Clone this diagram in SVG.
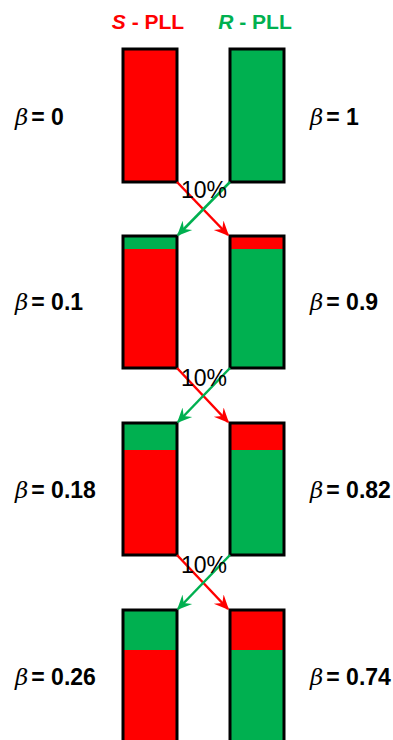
<svg xmlns="http://www.w3.org/2000/svg" width="393" height="740" viewBox="0 0 393 740">
<style>
.box{stroke:#000;stroke-width:3}
.r{fill:#ff0000}
.g{fill:#00b050}
.lbl{font-family:"Liberation Sans",Arial,sans-serif;font-size:23px;font-weight:bold;fill:#000}
.b{font-family:"DejaVu Serif",serif;font-style:italic;font-weight:normal}
.pct{font-family:"Liberation Sans",Arial,sans-serif;font-size:23px;fill:#000;text-anchor:middle}
.hdr{font-family:"Liberation Sans",Arial,sans-serif;font-size:21px;font-weight:bold}
.ar{stroke-width:2.5;fill:none}
</style>
<defs>
<marker id="ah-r" viewBox="0 0 10 10" refX="9" refY="5" markerWidth="15" markerHeight="15" orient="auto" markerUnits="userSpaceOnUse">
<path d="M0,0.5 L10,5 L0,9.5 L3.5,5 Z" fill="#ff0000"/>
</marker>
<marker id="ah-g" viewBox="0 0 10 10" refX="9" refY="5" markerWidth="15" markerHeight="15" orient="auto" markerUnits="userSpaceOnUse">
<path d="M0,0.5 L10,5 L0,9.5 L3.5,5 Z" fill="#00b050"/>
</marker>
</defs>
<text class="hdr" x="148" y="29" text-anchor="middle" fill="#ff0000"><tspan font-style="italic">S</tspan> - PLL</text>
<text class="hdr" x="255" y="29" text-anchor="middle" fill="#00b050"><tspan font-style="italic">R</tspan> - PLL</text>

<g id="s0"><rect class="box r" x="123" y="49" width="54" height="133"/></g>
<g id="r0"><rect class="box g" x="230" y="49" width="54" height="133"/></g>
<g id="s1"><rect class="r" x="123" y="236" width="54" height="132"/><rect class="g" x="123" y="236" width="54" height="13"/><rect class="box" fill="none" x="123" y="236" width="54" height="132"/></g>
<g id="r1"><rect class="g" x="230" y="236" width="54" height="132"/><rect class="r" x="230" y="236" width="54" height="13"/><rect class="box" fill="none" x="230" y="236" width="54" height="132"/></g>
<g id="s2"><rect class="r" x="123" y="423" width="54" height="132"/><rect class="g" x="123" y="423" width="54" height="27"/><rect class="box" fill="none" x="123" y="423" width="54" height="132"/></g>
<g id="r2"><rect class="g" x="230" y="423" width="54" height="132"/><rect class="r" x="230" y="423" width="54" height="27"/><rect class="box" fill="none" x="230" y="423" width="54" height="132"/></g>
<g id="s3"><rect class="r" x="123" y="610" width="54" height="140"/><rect class="g" x="123" y="610" width="54" height="40"/><rect class="box" fill="none" x="123" y="610" width="54" height="140"/></g>
<g id="r3"><rect class="g" x="230" y="610" width="54" height="140"/><rect class="r" x="230" y="610" width="54" height="40"/><rect class="box" fill="none" x="230" y="610" width="54" height="140"/></g>

<g id="connectors">
<line class="ar" stroke="#ff0000" x1="177" y1="182" x2="228" y2="235" marker-end="url(#ah-r)"/>
<line class="ar" stroke="#00b050" x1="230" y1="182" x2="178" y2="235" marker-end="url(#ah-g)"/>
<line class="ar" stroke="#ff0000" x1="177" y1="368" x2="228" y2="422" marker-end="url(#ah-r)"/>
<line class="ar" stroke="#00b050" x1="230" y1="368" x2="178" y2="422" marker-end="url(#ah-g)"/>
<line class="ar" stroke="#ff0000" x1="177" y1="555" x2="228" y2="609" marker-end="url(#ah-r)"/>
<line class="ar" stroke="#00b050" x1="230" y1="555" x2="178" y2="609" marker-end="url(#ah-g)"/>
</g>
<text class="pct" x="204" y="198">10%</text>
<text class="pct" x="204" y="386">10%</text>
<text class="pct" x="204" y="573">10%</text>

<text class="lbl" x="15" y="125"><tspan class="b">β</tspan><tspan dx="3">= 0</tspan></text>
<text class="lbl" x="310" y="125"><tspan class="b">β</tspan><tspan dx="3">= 1</tspan></text>
<text class="lbl" x="15" y="310"><tspan class="b">β</tspan><tspan dx="3">= 0.1</tspan></text>
<text class="lbl" x="310" y="310"><tspan class="b">β</tspan><tspan dx="3">= 0.9</tspan></text>
<text class="lbl" x="15" y="498"><tspan class="b">β</tspan><tspan dx="3">= 0.18</tspan></text>
<text class="lbl" x="310" y="498"><tspan class="b">β</tspan><tspan dx="3">= 0.82</tspan></text>
<text class="lbl" x="15" y="685"><tspan class="b">β</tspan><tspan dx="3">= 0.26</tspan></text>
<text class="lbl" x="310" y="685"><tspan class="b">β</tspan><tspan dx="3">= 0.74</tspan></text>
</svg>
